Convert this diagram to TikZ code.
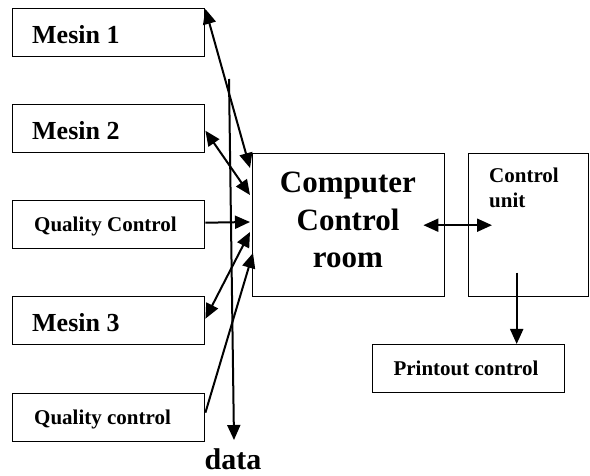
\documentclass[tikz,border=0pt]{standalone}
\usepackage{fontspec}
\setmainfont{Liberation Serif}
\usetikzlibrary{arrows.meta,calc}
\begin{document}
\begin{tikzpicture}[x=1pt,y=-1pt,
  box/.style={draw,line width=1.4pt,inner sep=0pt,anchor=north west},
  big/.style={anchor=base west,inner sep=0pt,font=\bfseries\fontsize{26}{30}\selectfont},
  small/.style={anchor=base west,inner sep=0pt,font=\bfseries\fontsize{21}{25}\selectfont},
  huge/.style={anchor=base,inner sep=0pt,font=\bfseries\fontsize{31}{38}\selectfont},
  conn/.style={line width=2pt},
  tip/.tip={Triangle[length=15pt,width=13pt]}]
\useasboundingbox (0,0) rectangle (590,476);
% left boxes
\node[box,minimum width=192pt,minimum height=48pt] (m1) at (12,8) {};
\node[big] (t1) at (32,44) {Mesin 1};
\node[box,minimum width=192pt,minimum height=48pt] (m2) at (12,104) {};
\node[big] (t2) at (32,140) {Mesin 2};
\node[box,minimum width=192pt,minimum height=48pt] (qc1) at (12,200) {};
\node[small] (t3) at (34,232) {Quality Control};
\node[box,minimum width=192pt,minimum height=48pt] (m3) at (12,296) {};
\node[big] (t4) at (32,332) {Mesin 3};
\node[box,minimum width=192pt,minimum height=48pt] (qc2) at (12,393) {};
\node[small] (t5) at (34,424) {Quality control};
% computer control room
\node[box,minimum width=192pt,minimum height=143pt] (cc) at (252,153) {};
\node[huge] (c1) at (348,193) {Computer};
\node[huge] (c2) at (348,231) {Control};
\node[huge] (c3) at (348,268) {room};
% control unit
\node[box,minimum width=120pt,minimum height=143pt] (cu) at (468,153) {};
\node[small] (u1) at (489,183) {Control};
\node[small] (u2) at (489,208) {unit};
% printout
\node[box,minimum width=192pt,minimum height=48pt] (pc) at (372,344) {};
\node[small,anchor=base] (p1) at (466,375) {Printout control};
% data
\node[anchor=base,inner sep=0pt,font=\bfseries\fontsize{30}{36}\selectfont] (dl) at (233,469) {data};
\coordinate (dtop) at (229,79);
\coordinate (dbot) at (234,440);
% connectors
\draw[conn,-tip] (dtop) -- (dbot);
\draw[conn,tip-tip] ([yshift=-1pt]m1.north east) -- ([xshift=-2pt,yshift=-15pt]cc.north west);
\draw[conn,tip-tip] ([yshift=-2pt]m2.east) -- ([xshift=-2pt,yshift=-42pt]cc.north west);
\draw[conn,-tip] ([yshift=2pt]qc1.east) -- ([xshift=-2pt,yshift=-69pt]cc.north west);
\draw[conn,tip-tip] ([yshift=2pt]m3.east) -- ([xshift=-2pt,yshift=-79pt]cc.north west);
\draw[conn,-tip] ([yshift=5pt]qc2.east) -- ([xshift=1pt,yshift=-100pt]cc.north west);
\draw[conn,tip-tip] ([xshift=-22pt]cc.east) -- ([xshift=24pt]cu.west);
\draw[conn,-tip] ([xshift=-12pt,yshift=-47.5pt]cu.center) -- ([xshift=48pt]pc.north);
\end{tikzpicture}
\end{document}
